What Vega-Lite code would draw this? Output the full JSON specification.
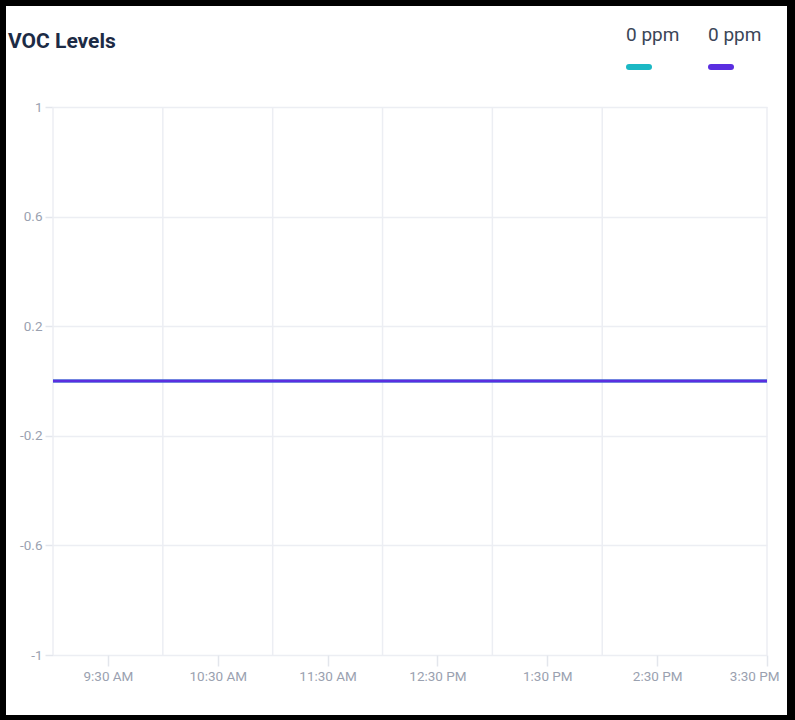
{
  "$schema": "https://vega.github.io/schema/vega-lite/v6.json",
  "width": 781,
  "height": 709,
  "autosize": {"type": "none"},
  "padding": {"left": 6, "top": 6, "right": 8, "bottom": 5},
  "background": "#000000",
  "config": {
    "view": {"fill": "#ffffff", "stroke": null},
    "font": "Roboto"
  },
  "title": {
    "text": "VOC Levels",
    "anchor": "start",
    "frame": "group",
    "orient": "top",
    "offset": -63,
    "baseline": "alphabetic",
    "fontSize": 21,
    "fontWeight": "bold",
    "color": "#1c2b45",
    "dx": 2
  },
  "datasets": {
    "readings": [
      {"time": "2024-05-01T09:00:00", "value": 0, "series": "Sensor A"},
      {"time": "2024-05-01T09:30:00", "value": 0, "series": "Sensor A"},
      {"time": "2024-05-01T10:00:00", "value": 0, "series": "Sensor A"},
      {"time": "2024-05-01T10:30:00", "value": 0, "series": "Sensor A"},
      {"time": "2024-05-01T11:00:00", "value": 0, "series": "Sensor A"},
      {"time": "2024-05-01T11:30:00", "value": 0, "series": "Sensor A"},
      {"time": "2024-05-01T12:00:00", "value": 0, "series": "Sensor A"},
      {"time": "2024-05-01T12:30:00", "value": 0, "series": "Sensor A"},
      {"time": "2024-05-01T13:00:00", "value": 0, "series": "Sensor A"},
      {"time": "2024-05-01T13:30:00", "value": 0, "series": "Sensor A"},
      {"time": "2024-05-01T14:00:00", "value": 0, "series": "Sensor A"},
      {"time": "2024-05-01T14:30:00", "value": 0, "series": "Sensor A"},
      {"time": "2024-05-01T15:00:00", "value": 0, "series": "Sensor A"},
      {"time": "2024-05-01T15:30:00", "value": 0, "series": "Sensor A"},
      {"time": "2024-05-01T09:00:00", "value": 0, "series": "Sensor B"},
      {"time": "2024-05-01T09:30:00", "value": 0, "series": "Sensor B"},
      {"time": "2024-05-01T10:00:00", "value": 0, "series": "Sensor B"},
      {"time": "2024-05-01T10:30:00", "value": 0, "series": "Sensor B"},
      {"time": "2024-05-01T11:00:00", "value": 0, "series": "Sensor B"},
      {"time": "2024-05-01T11:30:00", "value": 0, "series": "Sensor B"},
      {"time": "2024-05-01T12:00:00", "value": 0, "series": "Sensor B"},
      {"time": "2024-05-01T12:30:00", "value": 0, "series": "Sensor B"},
      {"time": "2024-05-01T13:00:00", "value": 0, "series": "Sensor B"},
      {"time": "2024-05-01T13:30:00", "value": 0, "series": "Sensor B"},
      {"time": "2024-05-01T14:00:00", "value": 0, "series": "Sensor B"},
      {"time": "2024-05-01T14:30:00", "value": 0, "series": "Sensor B"},
      {"time": "2024-05-01T15:00:00", "value": 0, "series": "Sensor B"},
      {"time": "2024-05-01T15:30:00", "value": 0, "series": "Sensor B"}
    ],
    "gridlines": [
      {"time": "2024-05-01T09:00:00"},
      {"time": "2024-05-01T10:00:00"},
      {"time": "2024-05-01T11:00:00"},
      {"time": "2024-05-01T12:00:00"},
      {"time": "2024-05-01T13:00:00"},
      {"time": "2024-05-01T14:00:00"},
      {"time": "2024-05-01T15:30:00"}
    ]
  },
  "encoding": {
    "x": {
      "field": "time",
      "type": "temporal",
      "scale": {
        "domain": [
          {"year": 2024, "month": 5, "date": 1, "hours": 9, "minutes": 0},
          {"year": 2024, "month": 5, "date": 1, "hours": 15, "minutes": 30}
        ],
        "range": [47, 761],
        "nice": false
      },
      "axis": {
        "orient": "bottom",
        "offset": -60,
        "title": null,
        "values": [
          {"year": 2024, "month": 5, "date": 1, "hours": 9, "minutes": 30},
          {"year": 2024, "month": 5, "date": 1, "hours": 10, "minutes": 30},
          {"year": 2024, "month": 5, "date": 1, "hours": 11, "minutes": 30},
          {"year": 2024, "month": 5, "date": 1, "hours": 12, "minutes": 30},
          {"year": 2024, "month": 5, "date": 1, "hours": 13, "minutes": 30},
          {"year": 2024, "month": 5, "date": 1, "hours": 14, "minutes": 30},
          {"year": 2024, "month": 5, "date": 1, "hours": 15, "minutes": 30}
        ],
        "format": "%-I:%M %p",
        "labelOverlap": false,
        "labelFlush": false,
        "labelAlign": {
          "condition": {"test": "hours(datum.value) == 15", "value": "right"},
          "value": "center"
        },
        "labelOffset": {
          "condition": {"test": "hours(datum.value) == 15", "value": 12},
          "value": 0
        },
        "grid": false,
        "tickColor": "#e3e6ec",
        "tickWidth": 1.5,
        "tickSize": 11,
        "domain": false,
        "labelColor": "#9aa1b0",
        "labelFontSize": 13.5,
        "labelPadding": 3
      }
    }
  },
  "layer": [
    {
      "data": {"name": "gridlines"},
      "mark": {"type": "rule", "color": "#eceef3", "strokeWidth": 1.5},
      "encoding": {
        "y": {"datum": -1, "type": "quantitative"},
        "y2": {"datum": 1}
      }
    },
    {
      "data": {"name": "readings"},
      "mark": {"type": "line", "strokeWidth": 3},
      "encoding": {
        "y": {
          "field": "value",
          "type": "quantitative",
          "scale": {"domain": [-1, 1], "range": [649, 101], "nice": false, "zero": false},
          "axis": {
            "orient": "left",
            "offset": -47,
            "title": null,
            "values": [-1, -0.6, -0.2, 0.2, 0.6, 1],
            "labelExpr": "'' + datum.value",
            "grid": true,
            "gridColor": "#eceef3",
            "gridWidth": 1.5,
            "tickColor": "#e3e6ec",
            "tickWidth": 1.5,
            "tickSize": 8,
            "domain": false,
            "labelColor": "#9aa1b0",
            "labelFontSize": 13.5,
            "labelPadding": 3
          }
        },
        "color": {
          "field": "series",
          "type": "nominal",
          "scale": {"domain": ["Sensor A", "Sensor B"], "range": ["#1bb8c4", "#5a2ee0"]},
          "legend": {
            "orient": "none",
            "legendX": 620,
            "legendY": 48,
            "direction": "horizontal",
            "title": null,
            "symbolType": "stroke",
            "symbolSize": 400,
            "symbolStrokeWidth": 6,
            "labelFontSize": 19,
            "labelColor": "#3b4657",
            "labelOffset": -26,
            "columnPadding": 19,
            "labelExpr": "'0 ppm'",
            "encode": {
              "labels": {"update": {"dy": {"value": -32}}},
              "symbols": {"update": {"strokeCap": {"value": "round"}}}
            }
          }
        }
      }
    }
  ]
}
